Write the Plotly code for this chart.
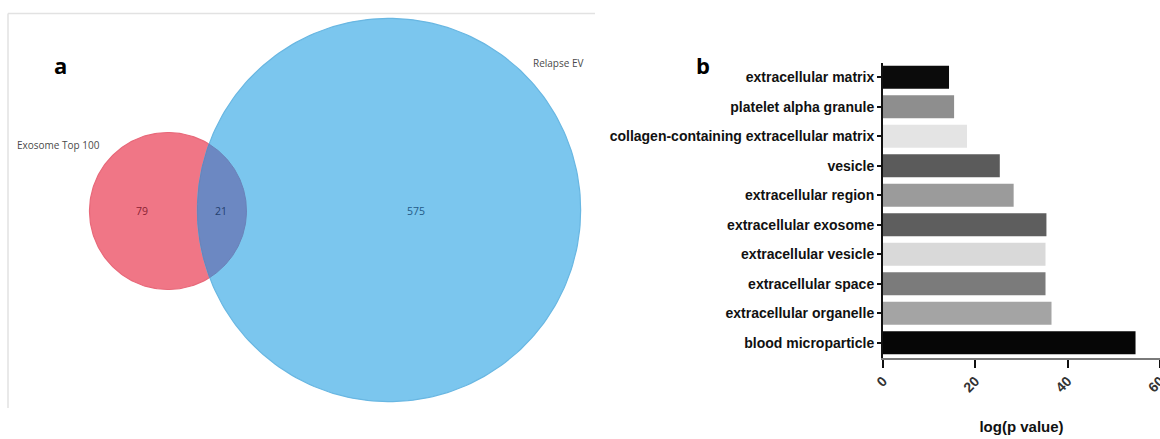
import numpy as np
import plotly.graph_objects as go

# ---- Panel a: Venn diagram counts ----
venn_sets = ["Exosome Top 100", "Relapse EV"]
only_exosome = 79
shared = 21
only_relapse = 575

# ---- Panel b: GO cellular component enrichment ----
go_terms = [
    "extracellular matrix",
    "platelet alpha granule",
    "collagen-containing extracellular matrix",
    "vesicle",
    "extracellular region",
    "extracellular exosome",
    "extracellular vesicle",
    "extracellular space",
    "extracellular organelle",
    "blood microparticle",
]
log_p = [14.3, 15.4, 18.2, 25.3, 28.3, 35.4, 35.2, 35.2, 36.5, 54.7]
bar_colors = ["#0b0b0b", "#8e8e8e", "#e4e4e4", "#5b5b5b", "#9b9b9b",
              "#5e5e5e", "#d9d9d9", "#7b7b7b", "#a4a4a4", "#060606"]
x_ticks = [0, 20, 40, 60]

W, H = 1160, 439
LABEL_FONT = "Liberation Sans Narrow, Liberation Sans, Arial, sans-serif"
fig = go.Figure()

# Venn circles: area proportional to set size, laid out in a pixel-scaled axis
scale = 7.85
r_exo = scale * np.sqrt(only_exosome + shared)
r_rel = scale * np.sqrt(shared + only_relapse)
c_exo = np.array([168.0, 211.0])
c_rel = np.array([389.0, 210.0])


def circle(c, r, t0=0.0, t1=2 * np.pi, n=240):
    t = np.linspace(t0, t1, n)
    return c[0] + r * np.cos(t), c[1] + r * np.sin(t)


def lens(c1, r1, c2, r2, n=160):
    d = np.hypot(*(c2 - c1))
    a = (d ** 2 + r1 ** 2 - r2 ** 2) / (2 * d)
    h = np.sqrt(r1 ** 2 - a ** 2)
    u = (c2 - c1) / d
    base_ang = np.arctan2(u[1], u[0])
    half1 = np.arctan2(h, a)
    half2 = np.arctan2(h, d - a)
    x1, y1 = circle(c1, r1, base_ang - half1, base_ang + half1, n)
    x2, y2 = circle(c2, r2, base_ang + np.pi - half2, base_ang + np.pi + half2, n)
    return np.concatenate([x1, x2]), np.concatenate([y1, y2])


ex, ey = circle(c_exo, r_exo)
fig.add_trace(go.Scatter(x=ex, y=ey, fill="toself", fillcolor="#f07686",
                         line=dict(color="#e8697a", width=1.2), mode="lines",
                         hoverinfo="skip", showlegend=False, xaxis="x", yaxis="y"))
rx, ry = circle(c_rel, r_rel)
fig.add_trace(go.Scatter(x=rx, y=ry, fill="toself", fillcolor="#7bc6ee",
                         line=dict(color="#69b7e2", width=1.2), mode="lines",
                         hoverinfo="skip", showlegend=False, xaxis="x", yaxis="y"))
lx, ly = lens(c_exo, r_exo, c_rel, r_rel)
fig.add_trace(go.Scatter(x=lx, y=ly, fill="toself", fillcolor="#6c88c2",
                         line=dict(color="#6a82b8", width=1), mode="lines",
                         hoverinfo="skip", showlegend=False, xaxis="x", yaxis="y"))

# region counts
fig.add_trace(go.Scatter(
    x=[142, 221, 416], y=[212, 212, 212], mode="text",
    text=[str(only_exosome), str(shared), str(only_relapse)],
    textfont=dict(family="Open Sans, sans-serif", size=10.5,
                  color=["#8a2233", "#24406e", "#245a88"]),
    hoverinfo="skip", showlegend=False, xaxis="x", yaxis="y"))

# ---- Panel b bars ----
fig.add_trace(go.Bar(
    x=log_p, y=go_terms, orientation="h", marker=dict(color=bar_colors, line=dict(width=0)),
    width=0.78, hoverinfo="x+y", showlegend=False, xaxis="x2", yaxis="y2"))

fig.update_layout(
    width=W, height=H,
    margin=dict(l=0, r=0, t=0, b=0, pad=0, autoexpand=False),
    paper_bgcolor="white", plot_bgcolor="white",
    xaxis=dict(domain=[0, 600 / W], range=[0, 600], visible=False,
               fixedrange=True, automargin=False),
    yaxis=dict(domain=[0, 1], range=[H, 0], visible=False,
               fixedrange=True, automargin=False),
    xaxis2=dict(
        domain=[883 / W, 1.0], range=[0, 60], anchor="y2", automargin=False,
        tickvals=x_ticks, ticktext=[str(v) for v in x_ticks], tickangle=-45,
        ticklabeloverflow="allow",
        ticks="outside", ticklen=8, tickwidth=2, tickcolor="#111",
        showline=True, linecolor="#7a7a7a", linewidth=2, showgrid=False,
        zeroline=False, layer="below traces",
        tickfont=dict(family=LABEL_FONT, size=14, color="#333", weight="bold"),
        title=dict(text="log(p value)", standoff=27,
                   font=dict(family=LABEL_FONT, size=15, color="#111", weight="bold")),
    ),
    yaxis2=dict(
        domain=[(H - 357.5) / H, (H - 62.5) / H], anchor="x2", automargin=False,
        categoryorder="array", categoryarray=go_terms, range=[9.5, -0.5],
        ticks="outside", ticklen=4, tickwidth=1.5, tickcolor="#111",
        showline=True, linecolor="#111", linewidth=2, showgrid=False,
        tickfont=dict(family=LABEL_FONT, size=14, color="#111", weight="bold"),
    ),
    shapes=[
        dict(type="line", xref="paper", yref="paper", x0=8 / W, x1=595 / W,
             y0=(H - 13.5) / H, y1=(H - 13.5) / H, line=dict(color="#e2e2e2", width=1.5)),
        dict(type="line", xref="paper", yref="paper", x0=8 / W, x1=8 / W,
             y0=(H - 13.5) / H, y1=(H - 408) / H, line=dict(color="#e2e2e2", width=1.5)),
    ],
    annotations=[
        dict(text="a", xref="paper", yref="paper", x=60 / W, y=(H - 65) / H,
             xanchor="center", yanchor="middle", showarrow=False,
             font=dict(family="Open Sans, sans-serif", size=22, color="#000", weight="bold")),
        dict(text="b", xref="paper", yref="paper", x=703 / W, y=(H - 65) / H,
             xanchor="center", yanchor="middle", showarrow=False,
             font=dict(family="Open Sans, sans-serif", size=22, color="#000", weight="bold")),
        dict(text=venn_sets[0], xref="paper", yref="paper", x=15 / W, y=(H - 145) / H,
             xanchor="left", yanchor="middle", showarrow=False,
             font=dict(family="Open Sans, sans-serif", size=10, color="#4a4a4a")),
        dict(text=venn_sets[1], xref="paper", yref="paper", x=531 / W, y=(H - 63) / H,
             xanchor="left", yanchor="middle", showarrow=False,
             font=dict(family="Open Sans, sans-serif", size=10, color="#4a4a4a")),
    ],
)

fig.write_html("out.html", post_script="document.body.style.margin='0';")
